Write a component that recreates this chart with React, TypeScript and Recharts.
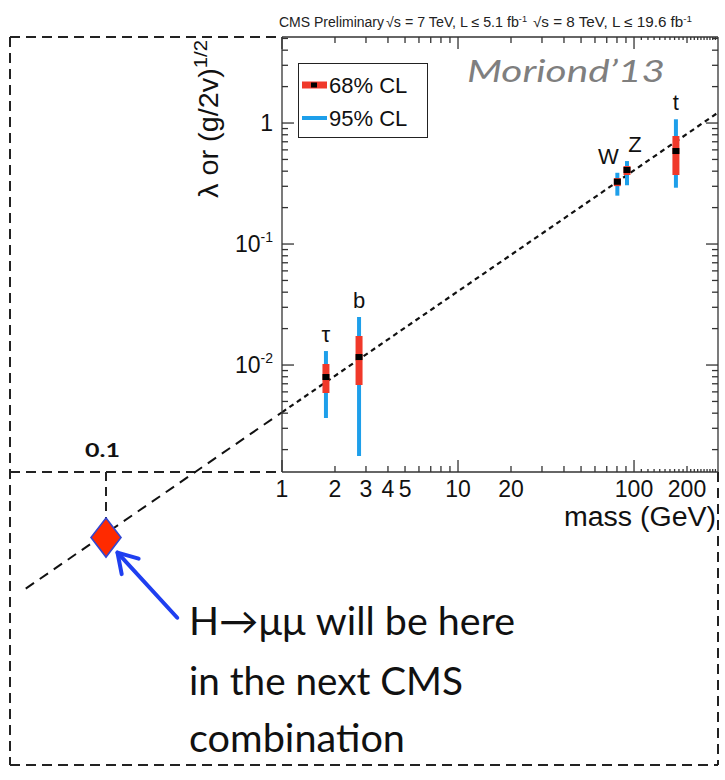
import React from "react";
import {
  ComposedChart,
  Line,
  Scatter,
  ErrorBar,
  XAxis,
  YAxis,
  ReferenceLine,
  Legend,
} from "recharts";

// measured couplings (CMS Moriond'13 panel)
const particles = ["τ", "b", "W", "Z", "t"];
const masses = [1.777, 2.74, 80.4, 91.2, 173];
const couplings = [0.00796, 0.01164, 0.327, 0.409, 0.587];
const low68 = [0.00587, 0.00684, 0.301, 0.372, 0.372];
const high68 = [0.0102, 0.01738, 0.351, 0.441, 0.781];
const low95 = [0.00365, 0.00177, 0.251, 0.306, 0.292];
const high95 = [0.01305, 0.0249, 0.388, 0.485, 1.074];

// SM expectation line, inside the panel and extended to low mass
const smMass = [1, 300];
const smCoupling = [0.00407, 1.22];
const extMass = [0.035, 1];
const extCoupling = [0.000142, 0.00407];

// where H->mumu will sit
const muMass = 0.1;
const muCoupling = 0.000375;

// annotation arrow (tail -> tip)
const arrowFrom = { x: 0.254, y: 0.0000816 };
const arrowTo = { x: 0.1162, y: 0.000282 };

// axes
const MASS_MIN = 1;
const MASS_MAX = 300;
const MASS_OUTER_MIN = 0.02848;
const COUPLING_MIN = 0.001306;
const COUPLING_MAX = 5.14;
const COUPLING_OUTER_MIN = 0.00000495;

const massMajor = [1, 10, 100];
const massMinor = [2, 3, 4, 5, 6, 7, 8, 9, 20, 30, 40, 50, 60, 70, 80, 90, 200];
const massTiny = [
  110, 120, 130, 140, 150, 160, 170, 180, 190, 210, 220, 230, 240, 250, 260,
  270, 280, 290,
];
const massLabels = [1, 2, 3, 4, 5, 10, 20, 100, 200];
const massTicks = [...massMajor, ...massMinor, ...massTiny].sort((a, b) => a - b);

const couplingMajor = [0.01, 0.1, 1];
const couplingMinor = [
  0.002, 0.003, 0.004, 0.005, 0.006, 0.007, 0.008, 0.009, 0.02, 0.03, 0.04,
  0.05, 0.06, 0.07, 0.08, 0.09, 0.2, 0.3, 0.4, 0.5, 0.6, 0.7, 0.8, 0.9, 2, 3, 4,
  5,
];
const couplingLabels: Record<string, [string, string]> = {
  "0.01": ["10", "-2"],
  "0.1": ["10", "-1"],
  "1": ["1", ""],
};
const couplingTicks = [...couplingMajor, ...couplingMinor].sort((a, b) => a - b);

const W = 725;
const H = 780;
const RED = "#f0392a";
const BLUE = "#1e9fea";
const FRAME = "#333";
const HELV = "'Liberation Sans', Arial, Helvetica, sans-serif";
const SLIDE = "Lato, 'Open Sans', sans-serif";
const LABEL_DX: Record<string, number> = { W: -9, Z: 8 };

const points = particles.map((name, i) => ({
  name,
  m: masses[i],
  v: couplings[i],
  e68: [couplings[i] - low68[i], high68[i] - couplings[i]],
  e95: [couplings[i] - low95[i], high95[i] - couplings[i]],
}));
const labelAnchors = particles.map((name, i) => ({ name, m: masses[i], v: high95[i] }));
const smLine = smMass.map((m, i) => ({ m, v: smCoupling[i] }));
const extLine = extMass.map((m, i) => ({ m, v: extCoupling[i] }));
const muDrop = [
  { m: muMass, v: COUPLING_MIN },
  { m: muMass, v: muCoupling },
];
const muPoint = [{ m: muMass, v: muCoupling }];

function massTickLen(v: number) {
  if (massMajor.includes(v)) return 12;
  if (massTiny.includes(v)) return 3;
  return 6;
}

function makeMassTick(side: "bottom" | "top") {
  return (props: any) => {
    const { x, y, payload } = props;
    const v = Number(payload.value);
    const len = massTickLen(v);
    const dir = side === "bottom" ? -1 : 1;
    return (
      <g>
        <path d={`M${x},${y}V${y + dir * len}`} stroke={FRAME} strokeWidth={1.3} fill="none" />
        {side === "bottom" && massLabels.includes(v) ? (
          <text x={x} y={y + 25} textAnchor="middle" fontSize={23} fontFamily={HELV} fill="#111">
            {v}
          </text>
        ) : null}
      </g>
    );
  };
}

function makeCouplingTick(side: "left" | "right") {
  return (props: any) => {
    const { x, y, payload } = props;
    const v = Number(payload.value);
    const len = couplingMajor.includes(v) ? 12 : 6;
    const dir = side === "left" ? 1 : -1;
    const lab = couplingLabels[String(v)];
    return (
      <g>
        <path d={`M${x},${y}H${x + dir * len}`} stroke={FRAME} strokeWidth={1.3} fill="none" />
        {side === "left" && lab ? (
          <text x={x - 9} y={y + 8} textAnchor="end" fontSize={23} fontFamily={HELV} fill="#111">
            {lab[0]}
            {lab[1] ? (
              <tspan dy={-10} fontSize={14}>
                {lab[1]}
              </tspan>
            ) : null}
          </text>
        ) : null}
      </g>
    );
  };
}

function CentralDot(props: any) {
  const { cx, cy } = props;
  return <rect x={cx - 3.5} y={cy - 3} width={7} height={6} fill="#000" />;
}

function NoDot() {
  return <g />;
}

function ParticleLabel(props: any) {
  const { cx, cy, payload } = props;
  const dx = LABEL_DX[payload.name] || 0;
  return (
    <text x={cx + dx} y={cy - 9} textAnchor="middle" fontSize={22} fontFamily={HELV} fill="#111">
      {payload.name}
    </text>
  );
}

function MuDiamond(props: any) {
  const { cx, cy } = props;
  const pts = `${cx},${cy - 19.5} ${cx + 15},${cy} ${cx},${cy + 19.5} ${cx - 15},${cy}`;
  return <polygon points={pts} fill="#ff2a00" stroke="#3346d0" strokeWidth={1.6} />;
}

function ArrowShape(props: any) {
  const { x1, y1, x2, y2 } = props;
  const ang = Math.atan2(y2 - y1, x2 - x1);
  const L = 22;
  const a = 0.55;
  const ax = x2 - L * Math.cos(ang - a);
  const ay = y2 - L * Math.sin(ang - a);
  const bx = x2 - L * Math.cos(ang + a);
  const by = y2 - L * Math.sin(ang + a);
  return (
    <g stroke="#1f3ff0" strokeWidth={4} fill="none" strokeLinecap="round">
      <line x1={x1} y1={y1} x2={x2} y2={y2} />
      <polyline points={`${ax},${ay} ${x2},${y2} ${bx},${by}`} strokeLinejoin="round" />
    </g>
  );
}

function CLLegend() {
  return (
    <svg width={130} height={75} style={{ display: "block" }}>
      <rect x={0.5} y={0.5} width={129} height={74} fill="#fff" stroke="#222" strokeWidth={1} />
      <line x1={4} x2={29} y1={22} y2={22} stroke={RED} strokeWidth={7} />
      <rect x={13} y={19.5} width={6} height={5} fill="#000" />
      <text x={31} y={30} fontSize={22} fontFamily={HELV} fill="#111">
        68% CL
      </text>
      <line x1={4} x2={29} y1={55} y2={55} stroke={BLUE} strokeWidth={4} />
      <text x={31} y={63} fontSize={22} fontFamily={HELV} fill="#111">
        95% CL
      </text>
    </svg>
  );
}

const boxDash = "10 6";
const boxStroke = { stroke: "#222", strokeWidth: 2, strokeDasharray: boxDash };

export default function App() {
  return (
    <div style={{ position: "absolute", left: 0, top: 0, width: W, height: H, background: "#fff" }}>
      {/* outer layer: extension to low mass */}
      <div style={{ position: "absolute", left: 0, top: 0 }}>
        <ComposedChart width={W} height={H} margin={{ top: 37, right: 7, bottom: 15, left: 10 }}>
          <XAxis
            hide
            dataKey="m"
            type="number"
            scale="log"
            domain={[MASS_OUTER_MIN, MASS_MAX]}
            allowDataOverflow
          />
          <YAxis
            hide
            dataKey="v"
            type="number"
            scale="log"
            domain={[COUPLING_OUTER_MIN, COUPLING_MAX]}
            allowDataOverflow
          />
          <ReferenceLine
            ifOverflow="visible"
            segment={[
              { x: MASS_OUTER_MIN, y: COUPLING_MAX },
              { x: MASS_MIN, y: COUPLING_MAX },
            ]}
            {...boxStroke}
          />
          <ReferenceLine
            ifOverflow="visible"
            segment={[
              { x: MASS_OUTER_MIN, y: COUPLING_MIN },
              { x: MASS_MIN, y: COUPLING_MIN },
            ]}
            {...boxStroke}
          />
          <ReferenceLine
            ifOverflow="visible"
            segment={[
              { x: MASS_OUTER_MIN, y: COUPLING_MAX },
              { x: MASS_OUTER_MIN, y: COUPLING_OUTER_MIN },
            ]}
            {...boxStroke}
          />
          <ReferenceLine
            ifOverflow="visible"
            segment={[
              { x: MASS_OUTER_MIN, y: COUPLING_OUTER_MIN },
              { x: MASS_MAX, y: COUPLING_OUTER_MIN },
            ]}
            {...boxStroke}
          />
          <ReferenceLine
            ifOverflow="visible"
            segment={[
              { x: MASS_MAX, y: COUPLING_MIN },
              { x: MASS_MAX, y: COUPLING_OUTER_MIN },
            ]}
            {...boxStroke}
          />
          <Line
            data={extLine}
            dataKey="v"
            stroke="#111"
            strokeWidth={2}
            strokeDasharray="10 7"
            dot={false}
            isAnimationActive={false}
          />
          <Line
            data={muDrop}
            dataKey="v"
            stroke="#222"
            strokeWidth={2}
            strokeDasharray="9 6"
            dot={false}
            isAnimationActive={false}
          />
          <Scatter data={muPoint} shape={MuDiamond} isAnimationActive={false} />
          <ReferenceLine
            ifOverflow="visible"
            segment={[arrowFrom, arrowTo]}
            shape={ArrowShape}
          />
        </ComposedChart>
      </div>

      {/* CMS panel */}
      <div style={{ position: "absolute", left: 0, top: 0 }}>
        <ComposedChart width={W} height={H} margin={{ top: 36, right: 6, bottom: 268, left: 222 }}>
          <XAxis
            dataKey="m"
            type="number"
            scale="log"
            domain={[MASS_MIN, MASS_MAX]}
            allowDataOverflow
            ticks={massTicks}
            interval={0}
            tickSize={0}
            tickMargin={0}
            tickLine={false}
            tick={makeMassTick("bottom")}
            height={40}
            axisLine={{ stroke: FRAME, strokeWidth: 1.3 }}
          />
          <XAxis
            xAxisId="top"
            orientation="top"
            dataKey="m"
            type="number"
            scale="log"
            domain={[MASS_MIN, MASS_MAX]}
            allowDataOverflow
            ticks={massTicks}
            interval={0}
            tickSize={0}
            tickMargin={0}
            tickLine={false}
            tick={makeMassTick("top")}
            height={1}
            axisLine={{ stroke: FRAME, strokeWidth: 1.3 }}
          />
          <YAxis
            dataKey="v"
            type="number"
            scale="log"
            domain={[COUPLING_MIN, COUPLING_MAX]}
            allowDataOverflow
            ticks={couplingTicks}
            interval={0}
            tickSize={0}
            tickMargin={0}
            tickLine={false}
            tick={makeCouplingTick("left")}
            width={60}
            axisLine={{ stroke: FRAME, strokeWidth: 1.3 }}
          />
          <YAxis
            yAxisId="right"
            orientation="right"
            dataKey="v"
            type="number"
            scale="log"
            domain={[COUPLING_MIN, COUPLING_MAX]}
            allowDataOverflow
            ticks={couplingTicks}
            interval={0}
            tickSize={0}
            tickMargin={0}
            tickLine={false}
            tick={makeCouplingTick("right")}
            width={1}
            axisLine={{ stroke: FRAME, strokeWidth: 1.3 }}
          />
          {/* invisible series that binds the mirrored frame axes */}
          <Line
            xAxisId="top"
            yAxisId="right"
            data={smLine}
            dataKey="v"
            stroke="none"
            dot={false}
            legendType="none"
            isAnimationActive={false}
          />
          <Line
            data={smLine}
            dataKey="v"
            stroke="#111"
            strokeWidth={2.2}
            strokeDasharray="5 4"
            dot={false}
            isAnimationActive={false}
          />
          <Scatter data={points} shape={NoDot} isAnimationActive={false}>
            <ErrorBar dataKey="e95" direction="y" width={0} stroke={BLUE} strokeWidth={4} isAnimationActive={false} />
            <ErrorBar dataKey="e68" direction="y" width={0} stroke={RED} strokeWidth={7} isAnimationActive={false} />
          </Scatter>
          <Scatter data={points} shape={CentralDot} isAnimationActive={false} />
          <Scatter data={labelAnchors} shape={ParticleLabel} isAnimationActive={false} />
          <Legend
            layout="horizontal"
            verticalAlign="middle"
            align="center"
            wrapperStyle={{ left: 298, top: 63, width: 130, height: 75 }}
            content={() => <CLLegend />}
          />
        </ComposedChart>
      </div>

      {/* titles and slide annotation */}
      <svg
        width={W}
        height={H}
        style={{ position: "absolute", left: 0, top: 0, pointerEvents: "none" }}
      >
        <g fontFamily={HELV} fontSize={14} fill="#222">
          <text x={279} y={27}>CMS Preliminary</text>
          <text x={386} y={27} textLength={141} lengthAdjust="spacingAndGlyphs">
            √s = 7 TeV, L ≤ 5.1 fb
            <tspan dy={-5} fontSize={9}>-1</tspan>
          </text>
          <text x={533} y={27} textLength={159} lengthAdjust="spacingAndGlyphs">
            √s = 8 TeV, L ≤ 19.6 fb
            <tspan dy={-5} fontSize={9}>-1</tspan>
          </text>
        </g>
        <text
          x={467}
          y={82}
          fontFamily={SLIDE}
          fontStyle="italic"
          fontSize={31}
          fill="#7f7f7f"
          textLength={198}
          lengthAdjust="spacingAndGlyphs"
        >
          Moriond’13
        </text>
        <text
          transform="translate(218, 40) rotate(-90)"
          textAnchor="end"
          fontFamily={HELV}
          fontSize={27}
          fill="#111"
          textLength={158}
          lengthAdjust="spacingAndGlyphs"
        >
          λ or (g/2v)
          <tspan dy={-11} fontSize={19}>1/2</tspan>
        </text>
        <text
          x={716}
          y={526}
          textAnchor="end"
          fontFamily={HELV}
          fontSize={27}
          fill="#111"
          textLength={152}
          lengthAdjust="spacingAndGlyphs"
        >
          mass (GeV)
        </text>
        <text
          x={85}
          y={457}
          fontFamily={SLIDE}
          fontWeight={700}
          fontSize={19}
          fill="#111"
          textLength={35}
          lengthAdjust="spacingAndGlyphs"
        >
          0.1
        </text>
        <g fontFamily={SLIDE} fontSize={38} fill="#111">
          <text x={189} y={635} textLength={326} lengthAdjust="spacingAndGlyphs">
            H→μμ will be here
          </text>
          <text x={189} y={695} textLength={274} lengthAdjust="spacingAndGlyphs">
            in the next CMS
          </text>
          <text x={189} y={752} textLength={216} lengthAdjust="spacingAndGlyphs">
            combination
          </text>
        </g>
      </svg>
    </div>
  );
}
